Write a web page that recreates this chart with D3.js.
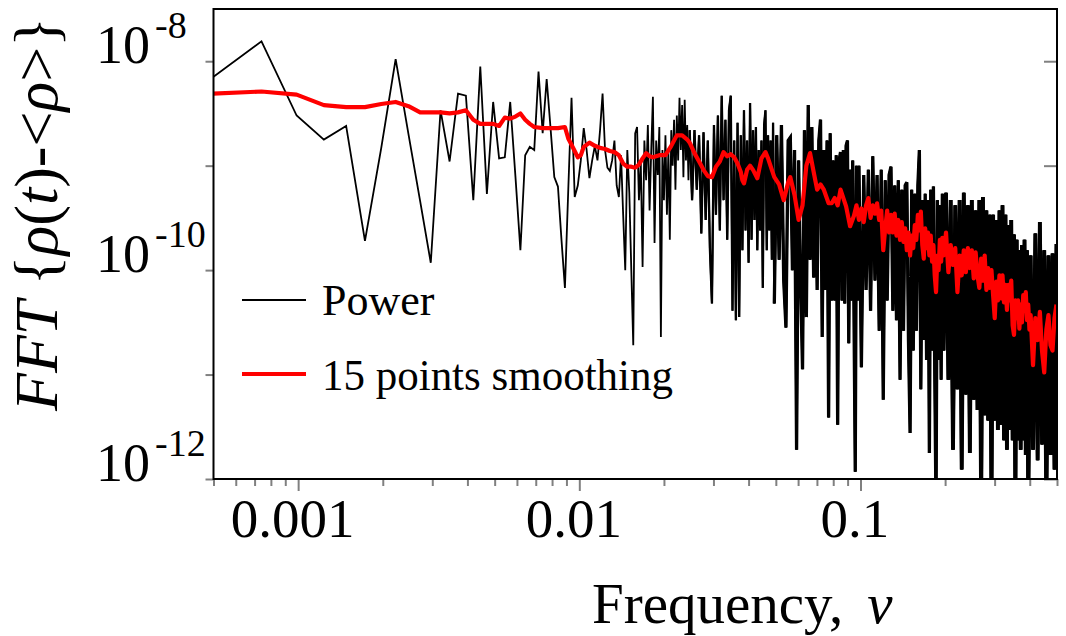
<!DOCTYPE html>
<html>
<head>
<meta charset="utf-8">
<script src="https://cdn.jsdelivr.net/npm/d3@7"></script>
<style>
  body { margin: 0; background: #fff; }
  svg text { font-family: "Liberation Serif", "Times New Roman", serif; fill: #000; }
</style>
</head>
<body>
<svg id="chart" width="1066" height="636"></svg>
<script>
// frequency step between two FFT bins
var binWidth = 1 / 4050;

// power spectrum: bin number and log10 of the power
var powerBin = [
  2,3,4,5,6,7,8,9,10,11,
  12,13,14,15,16,17,18,19,20,21,
  22,23,24,25,26,27,28,29,30,31,
  32,33,34,35,36,37,38,39,40,41,
  42,43,44,45,46,47,48,49,50,51,
  52,53,54,55,56,57,58,59,60,61,
  62,63,64,65,66,67,68,69,70,71,
  72,73,74,75,76,77,78,79,80,81,
  82,83,84,85,86,87,88,89,90,91,
  92,93,94,95,96,97,98,99,100,
  102,104,106,108,110,112,114,116,118,120,
  122,124,126,128,130,132,134,136,138,140,
  142,144,146,148,150,152,154,156,158,160,
  162,164,166,168,170,172,174,176,178,180,
  182,184,186,188,190,192,194,196,198,200,
  204,208,212,216,220,224,228,232,236,240,
  244,248,252,256,260,264,268,272,276,280,
  284,288,292,296,300,304,308,312,316,320,
  324,328,332,336,340,344,348,352,356,360,
  364,368,372,376,380,384,388,392,396,400,
  408,416,424,432,440,448,456,464,472,480,
  488,496,504,512,520,528,536,544,552,560,
  568,576,584,592,600,608,616,624,632,640,
  648,656,664,672,680,688,696,704,712,720,
  728,736,744,752,760,768,776,784,792,800,
  816,832,848,864,880,896,912,928,944,960,
  976,992,1008,1024,1040,1056,1072,1088,1104,1120,
  1136,1152,1168,1184,1200,1216,1232,1248,1264,1280,
  1296,1312,1328,1344,1360,1376,1392,1408,1424,1440,
  1456,1472,1488,1504,1520,1536,1552,1568,1584,1600,
  1632,1664,1696,1728,1760,1792,1824,1856,1888,1920,1952,1984,2016,2025
];
var powerLog10 = [
  -8.16,-7.81,-8.52,-8.75,-8.62,-9.72,-8.83,-7.98,-8.70,-9.34,
  -9.93,-8.47,-8.96,-8.31,-8.33,-9.33,-8.05,-9.27,-8.39,-8.93,
  -8.92,-8.39,-9.10,-9.81,-8.90,-8.82,-8.85,-8.10,-8.69,-8.17,
  -8.64,-9.11,-9.20,-9.71,-10.17,-9.23,-8.35,-9.30,-9.19,-8.95,
  -8.64,-8.85,-9.12,-8.95,-8.81,-8.95,-8.66,-8.31,-8.85,-9.02,
  -9.05,-8.95,-8.76,-9.19,-9.30,-8.90,-9.47,-10.00,-8.85,-9.26,
  -10.00,-10.72,-8.69,-8.63,-9.33,-8.95,-9.97,-8.76,-9.14,-8.61,
  -9.43,-8.85,-8.34,-9.74,-8.76,-9.09,-8.63,-10.64,-8.85,-9.33,
  -8.71,-9.47,-8.85,-9.71,-8.66,-9.00,-8.56,-9.23,-8.52,-8.95,
  -8.35,-8.85,-8.42,-9.11,-8.37,-8.95,-8.61,-9.14,-8.66,
  -9.33,-8.66,-9.23,-8.71,-9.65,-8.68,-9.52,-8.76,-9.79,-10.32,
  -8.61,-9.47,-8.52,-9.62,-8.33,-9.33,-8.56,-9.71,-8.47,-8.33,
  -10.39,-8.76,-10.48,-8.59,-10.45,-8.71,-9.81,-8.47,-9.62,-8.76,
  -9.93,-8.40,-9.71,-8.66,-9.52,-8.63,-9.81,-8.85,-9.62,-8.76,
  -10.17,-8.61,-8.47,-9.81,-8.71,-9.62,-8.76,-9.90,-8.59,-10.32,
  -8.71,-9.90,-8.61,-10.10,-10.55,-8.76,-8.73,-10.00,-8.85,-11.72,
  -8.95,-10.10,-10.95,-8.66,-10.45,-8.42,-9.90,-8.63,-10.07,-8.85,
  -10.19,-8.76,-8.56,-10.64,-8.85,-10.19,-8.76,-11.41,-8.69,-10.29,
  -8.95,-10.29,-8.90,-11.48,-8.95,-8.87,-10.29,-8.85,-10.32,-8.81,
  -8.76,-10.70,-9.04,-10.29,-8.95,-10.39,-11.93,-9.00,-10.29,-9.00,
  -10.93,-9.09,-10.19,-9.04,-10.39,-8.91,-10.10,-9.09,-10.58,-9.04,
  -11.24,-9.14,-10.29,-9.09,-9.01,-10.39,-9.19,-10.48,-9.14,-11.05,
  -9.23,-10.58,-9.19,-9.16,-10.67,-11.56,-9.23,-10.77,-9.27,-10.58,
  -9.19,-8.85,-11.14,-9.33,-10.67,-9.27,-10.86,-9.33,-11.75,-9.23,
  -10.77,-9.20,-10.96,-12.30,-9.33,-10.86,-9.38,-11.05,-9.27,-10.77,
  -9.26,-11.05,-9.33,-11.72,-9.38,-11.14,-9.33,-11.91,-9.26,-11.19,
  -9.38,-11.75,-9.33,-11.24,-9.43,-11.34,-9.33,-12.30,-9.30,-11.39,
  -9.43,-11.44,-9.47,-12.30,-9.47,-11.44,-9.52,-11.53,-9.43,-11.48,
  -9.38,-11.63,-9.47,-11.72,-9.57,-11.53,-9.52,-11.63,-9.66,-12.30,
  -9.71,-11.63,-9.81,-11.72,-9.76,-11.63,-9.71,-11.77,-9.81,-12.30,
  -9.86,-11.72,-9.65,-11.82,-9.54,-11.67,-9.81,-12.30,-9.86,-11.77,-9.84,-11.91,-9.75,-11.72
];

// 15 points smoothing: bin number and log10 of the smoothed power
var smoothBin = [
  2,3,4,5,6,7,8,9,10,11,
  12,13,14,15,16,17,18,19,20,21,
  22,23,24,25,26,27,28,30,32,34,
  36,37,38,40,41,42,44,46,48,50,
  52,54,56,58,60,62,64,66,68,70,
  72,74,78,82,86,90,94,98,100,104,
  108,112,116,120,124,128,132,136,140,144,
  148,152,154,156,160,164,168,174,180,186,
  190,196,200,208,216,224,228,236,244,252,
  260,268,276,284,292,300,312,320,328,336,
  344,360,372,384,392,
  400,408,416,424,432,440,448,456,464,472,
  480,488,496,504,512,520,528,536,544,552,
  560,568,576,584,592,600,608,616,624,632,
  640,648,656,664,672,680,688,696,704,712,
  720,728,736,744,752,760,768,776,784,792,
  800,816,832,848,864,880,896,912,928,944,
  960,976,992,1008,1024,1040,1056,1072,1088,1104,
  1120,1136,1152,1168,1184,1200,1216,1232,1248,1264,
  1280,1296,1312,1328,1344,1360,1376,1392,1408,1424,
  1440,1456,1472,1488,1504,1520,1536,1552,1568,1584,
  1600,1616,1632,1664,1696,1728,1760,1792,1824,1856,
  1888,1920,1952,1984,2016
];
var smoothLog10 = [
  -8.31,-8.29,-8.32,-8.42,-8.44,-8.44,-8.41,-8.39,-8.43,-8.49,
  -8.49,-8.49,-8.50,-8.49,-8.47,-8.56,-8.60,-8.60,-8.60,-8.62,
  -8.54,-8.55,-8.53,-8.50,-8.56,-8.60,-8.63,-8.64,-8.64,-8.64,
  -8.63,-8.74,-8.80,-8.92,-8.90,-8.82,-8.78,-8.81,-8.83,-8.84,
  -8.86,-8.87,-8.90,-8.98,-9.01,-9.01,-9.02,-8.99,-8.93,-8.88,
  -8.91,-8.92,-8.90,-8.90,-8.81,-8.71,-8.71,-8.75,-8.78,-8.88,
  -8.96,-9.04,-9.10,-9.11,-9.01,-8.96,-8.87,-8.91,-8.89,-8.92,
  -8.98,-9.06,-9.14,-9.17,-9.04,-9.00,-9.04,-9.12,-8.93,-8.87,
  -8.93,-9.04,-9.11,-9.18,-9.33,-9.16,-9.11,-9.28,-9.52,-9.38,
  -9.00,-8.88,-9.06,-9.23,-9.18,-9.23,-9.36,-9.36,-9.31,-9.38,
  -9.23,-9.39,-9.58,-9.48,-9.38,
  -9.52,-9.41,-9.54,-9.38,-9.31,-9.50,-9.38,-9.46,-9.36,-9.52,
  -9.43,-9.81,-9.60,-9.43,-9.64,-9.47,-9.64,-9.46,-9.67,-9.52,
  -9.71,-9.54,-9.73,-9.60,-9.81,-9.64,-9.86,-9.67,-9.79,-9.57,
  -9.71,-9.47,-9.62,-9.44,-9.76,-9.89,-9.60,-9.79,-9.64,-9.86,
  -9.67,-9.92,-9.76,-10.05,-10.21,-9.86,-10.00,-9.71,-9.92,-9.69,
  -9.86,-9.64,-10.02,-9.76,-9.95,-9.79,-10.21,-9.86,-10.05,-9.81,
  -10.02,-9.79,-9.98,-9.81,-10.08,-9.83,-10.05,-10.17,-9.89,-10.10,
  -9.86,-10.19,-9.98,-10.17,-10.00,-10.24,-10.46,-10.11,-10.29,-10.05,
  -10.27,-10.05,-10.31,-10.14,-10.38,-10.14,-10.29,-10.10,-10.53,-10.62,
  -10.29,-10.46,-10.29,-10.56,-10.33,-10.50,-10.24,-10.38,-10.21,-10.48,
  -10.33,-10.57,-10.43,-10.91,-10.46,-10.67,-10.40,-10.78,-10.98,-10.57,
  -10.43,-10.72,-10.77,-10.46,-10.33
];

// axis ticks
var xMajor = [0.001, 0.01, 0.1];
var xMinor = [0.0005, 0.0006, 0.0007, 0.0008, 0.0009,
              0.002, 0.003, 0.004, 0.005, 0.006, 0.007, 0.008, 0.009,
              0.02, 0.03, 0.04, 0.05, 0.06, 0.07, 0.08, 0.09,
              0.2, 0.3, 0.4, 0.5];
var yTicks = [1e-8, 1e-9, 1e-10, 1e-11, 1e-12];
var yLabelExp = [-8, -10, -12];

// plot box (pixels)
var boxLeft = 213.5, boxRight = 1057, boxTop = 9, boxBottom = 479;

var svg = d3.select("#chart");

var x = d3.scaleLog().domain([0.0005, 0.5]).range([boxLeft, boxRight]);
var y = d3.scaleLog().domain([1e-12, Math.pow(10, -7.5)]).range([boxBottom, boxTop]);

function styleTicks(g) {
  g.select(".domain").remove();
  g.selectAll(".tick line").attr("stroke", "#808080").attr("stroke-width", 2);
}

// bottom axis: minor and major ticks
svg.append("g")
   .attr("transform", "translate(0," + boxBottom + ")")
   .call(d3.axisBottom(x).tickValues(xMinor).tickSize(7).tickFormat(""))
   .call(styleTicks);

svg.append("g")
   .attr("transform", "translate(0," + boxBottom + ")")
   .call(d3.axisBottom(x).tickValues(xMajor).tickSize(12).tickPadding(7)
           .tickFormat(function(d) { return String(d); }))
   .call(styleTicks)
   .call(function(g) {
      g.selectAll("text")
       .attr("font-size", 55)
       .attr("font-family", "Liberation Serif")
       .attr("fill", "#000")
       .attr("dx", -6);
   });

// left ticks point out, right ticks point in
svg.append("g")
   .attr("transform", "translate(" + boxLeft + ",0)")
   .call(d3.axisLeft(y).tickValues(yTicks).tickSize(8).tickFormat(""))
   .call(styleTicks);

svg.append("g")
   .attr("transform", "translate(" + boxRight + ",0)")
   .call(d3.axisLeft(y).tickValues(yTicks).tickSize(13).tickFormat(""))
   .call(styleTicks);

// y tick labels with superscript exponent
var ylab = svg.append("g").selectAll("text")
   .data(yLabelExp)
   .enter()
   .append("text")
   .attr("x", 96)
   .attr("y", function(d) { return y(Math.pow(10, d)) + 2; })
   .attr("font-size", 54);
ylab.append("tspan").text("10");
ylab.append("tspan")
    .attr("font-size", 38)
    .attr("dx", 5)
    .attr("dy", -25)
    .text(function(d) { return String(d); });

// data
svg.append("clipPath").attr("id", "plotclip")
   .append("rect")
   .attr("x", boxLeft).attr("y", boxTop)
   .attr("width", boxRight - boxLeft).attr("height", boxBottom - boxTop);

var line = d3.line()
    .x(function(d) { return x(d[0] * binWidth); })
    .y(function(d) { return y(Math.pow(10, d[1])); });

var plot = svg.append("g").attr("clip-path", "url(#plotclip)");

var power = d3.zip(powerBin, powerLog10);

plot.append("path")
    .datum(power)
    .attr("d", line)
    .attr("fill", "none")
    .attr("stroke", "#000")
    .attr("stroke-width", 1.8);

// where the bins crowd together the trace turns into a solid black band
var bands = [[100, 2.3], [200, 3.3], [800, 3.9]];
bands.forEach(function(b) {
  plot.append("path")
      .datum(power.filter(function(d) { return d[0] >= b[0]; }))
      .attr("d", line)
      .attr("fill", "none")
      .attr("stroke", "#000")
      .attr("stroke-width", b[1]);
});

plot.append("path")
    .datum(d3.zip(smoothBin, smoothLog10))
    .attr("d", line)
    .attr("fill", "none")
    .attr("stroke", "#ff0000")
    .attr("stroke-width", 4.2)
    .attr("stroke-linejoin", "round");

// frame
svg.append("rect")
   .attr("x", boxLeft).attr("y", boxTop)
   .attr("width", boxRight - boxLeft).attr("height", boxBottom - boxTop)
   .attr("fill", "none")
   .attr("stroke", "#000")
   .attr("stroke-width", 2);

// legend
var legend = svg.append("g");
legend.append("line")
      .attr("x1", 242).attr("x2", 306).attr("y1", 300).attr("y2", 300)
      .attr("stroke", "#000").attr("stroke-width", 1.8);
legend.append("text").attr("x", 322).attr("y", 315).attr("font-size", 44).text("Power");
legend.append("line")
      .attr("x1", 242).attr("x2", 306).attr("y1", 374).attr("y2", 374)
      .attr("stroke", "#ff0000").attr("stroke-width", 4.2);
legend.append("text").attr("x", 322).attr("y", 390).attr("font-size", 44)
      .attr("textLength", 351).attr("lengthAdjust", "spacingAndGlyphs")
      .text("15 points smoothing");

// axis titles
var xt = svg.append("text")
   .attr("x", 592).attr("y", 623)
   .attr("font-size", 57);
xt.append("tspan").text("Frequency,");
xt.append("tspan").attr("dx", 24).attr("font-style", "italic").text("\u03bd");

var yt = svg.append("text")
   .attr("transform", "translate(57,214) rotate(-90)")
   .attr("text-anchor", "middle")
   .attr("font-size", 62);
yt.append("tspan").attr("font-style", "italic").text("FFT");
yt.append("tspan").text(" {");
yt.append("tspan").attr("font-style", "italic").text("\u03c1");
yt.append("tspan").text("(");
yt.append("tspan").attr("font-style", "italic").text("t");
yt.append("tspan").text(")-<");
yt.append("tspan").attr("font-style", "italic").text("\u03c1");
yt.append("tspan").text(">}");
</script>
</body>
</html>
